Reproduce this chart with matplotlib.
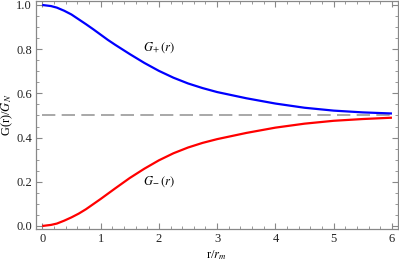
import matplotlib
matplotlib.use("Agg")
import matplotlib.pyplot as plt
from matplotlib.ticker import MultipleLocator

plt.rcParams['font.family'] = ['Liberation Serif', 'DejaVu Serif']
plt.rcParams['mathtext.fontset'] = 'stix'

r_vals = [0.0, 0.15, 0.25, 0.375, 0.5, 0.625, 0.75, 0.875, 1.0, 1.125, 1.25,
          1.5, 1.75, 2.0, 2.25, 2.5, 2.75, 3.0, 3.5, 4.0, 4.5, 5.0, 5.5, 6.0]
g_plus = [1.0, 0.995, 0.988, 0.974, 0.957, 0.935, 0.913, 0.890, 0.866, 0.842,
          0.820, 0.778, 0.738, 0.702, 0.671, 0.645, 0.624, 0.606, 0.578, 0.554,
          0.535, 0.522, 0.514, 0.509]
g_minus = [0.0, 0.005, 0.011, 0.024, 0.039, 0.056, 0.076, 0.099, 0.122, 0.146,
           0.170, 0.217, 0.259, 0.297, 0.329, 0.355, 0.376, 0.393, 0.421, 0.445,
           0.463, 0.476, 0.484, 0.490]
asym_x = [0.0, 6.0]
asym_y = [0.5, 0.5]

x_major = [0, 1, 2, 3, 4, 5, 6]
y_major = [0.0, 0.2, 0.4, 0.6, 0.8, 1.0]

fig = plt.figure(figsize=(3.99, 2.63), dpi=100)
ax = fig.add_axes([36/399, 1 - 229/263, (397.5 - 36)/399, (229 - 1)/263])

ax.plot(asym_x, asym_y, color='#999999', lw=1.2, dashes=(8, 3.8))
ax.plot(r_vals, g_plus, color='#0000ff', lw=1.6, solid_capstyle='butt',
        solid_joinstyle='round')
ax.plot(r_vals, g_minus, color='#ff0000', lw=1.6, solid_capstyle='butt',
        solid_joinstyle='round')

ax.text(2.0, 0.805, r'$G_{+}\,(r)$', fontsize=9, ha='center', va='center')
ax.text(2.0, 0.202, r'$G_{-}\,(r)$', fontsize=9, ha='center', va='center')

ax.set_xlim(-0.108, 6.095)
ax.set_ylim(-0.0136, 1.018)
ax.set_xticks(x_major)
ax.set_yticks(y_major)
ax.set_xticklabels([str(v) for v in x_major])
ax.set_yticklabels(['%.1f' % v for v in y_major])
ax.xaxis.set_minor_locator(MultipleLocator(0.2))
ax.yaxis.set_minor_locator(MultipleLocator(0.05))

ax.tick_params(which='both', direction='in', top=True, right=True, color='#888888',
               labelsize=9, labelcolor='#222222', pad=3)
ax.tick_params(which='major', length=4, width=0.8)
ax.tick_params(which='minor', length=2, width=0.6)
for s in ax.spines.values():
    s.set_color('#888888')
    s.set_linewidth(0.9)

ax.set_xlabel(r'r/$r_m$', fontsize=9, labelpad=2)
ax.set_ylabel(r'G(r)/$G_N$', fontsize=9)
ax.yaxis.set_label_coords(-0.058, 0.5)

fig.savefig('out.png', dpi=100)
